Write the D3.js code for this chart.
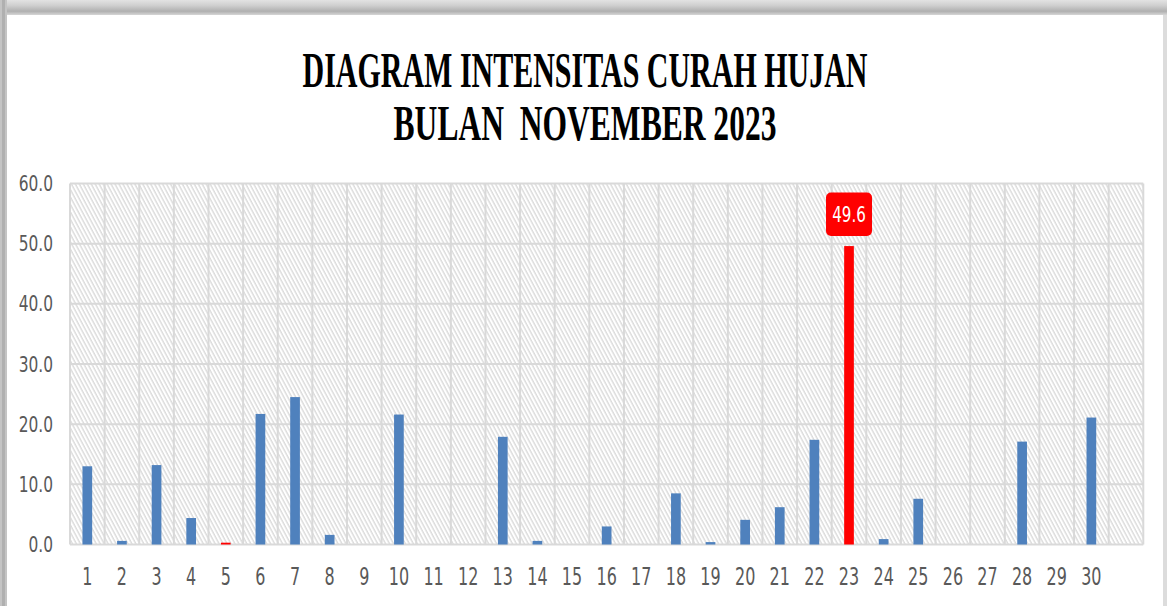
<!DOCTYPE html>
<html lang="id">
<head>
<meta charset="utf-8">
<title>Diagram Intensitas Curah Hujan</title>
<script src="https://d3js.org/d3.v7.min.js"></script>
<style>
body{
  margin:0;
  background:#fff;
}
.title{
  font-family:"Liberation Serif", serif;
  font-weight:bold;
  fill:#000;
  white-space:pre;
}
.axis text{
  font-family:"DejaVu Sans Condensed","DejaVu Sans",sans-serif;
  fill:#595959;
}
.axis path, .axis line{
  display:none;
}
.grid line{
  stroke:#d9d9d9;
  stroke-width:2;
}
</style>
</head>
<body>
<div id="chart"></div>
<script>
// curah hujan harian (mm), November 2023 - the source range has one empty slot after day 30
const days = ["1","2","3","4","5","6","7","8","9","10",
              "11","12","13","14","15","16","17","18","19","20",
              "21","22","23","24","25","26","27","28","29","30",""];
const rain = [13.0, 0.6, 13.2, 4.4, 0.3, 21.7, 24.5, 1.6, 0, 21.6,
              0, 0, 17.9, 0.6, 0, 3.0, 0, 8.5, 0.4, 4.1,
              6.2, 17.4, 49.6, 0.9, 7.6, 0, 0, 17.1, 0, 21.1];
const redDays = ["5", "23"];
const labelDays = ["23"];
const yTicks = [0, 10, 20, 30, 40, 50, 60];
const titleLines = ["DIAGRAM INTENSITAS CURAH HUJAN", "BULAN  NOVEMBER 2023"];

const W = 1167, H = 606;
var margin = {top:183.5, left:70, right:23.7, bottom:61.5};
var w = W - margin.left - margin.right,
    h = H - margin.top - margin.bottom;

var data = rain.map(function(v,i){ return {day:days[i], v:v}; });

var svg = d3.select("#chart").append("svg")
  .attr("width", W).attr("height", H);

// frame / shadow like the pasted picture
var defs = svg.append("defs");
var grad = defs.append("linearGradient").attr("id","topShade")
  .attr("x1",0).attr("y1",0).attr("x2",0).attr("y2",1);
grad.append("stop").attr("offset","0%").attr("stop-color","#e2e2e2");
grad.append("stop").attr("offset","35%").attr("stop-color","#d0d0d0");
grad.append("stop").attr("offset","75%").attr("stop-color","#b0b0b0");
grad.append("stop").attr("offset","100%").attr("stop-color","#d6d6d6");

svg.append("rect").attr("x",0).attr("y",0).attr("width",W).attr("height",15)
  .attr("fill","url(#topShade)");
svg.append("rect").attr("x",0).attr("y",0).attr("width",7).attr("height",H)
  .attr("fill","#c4c4c4");
svg.append("rect").attr("x",2).attr("y",0).attr("width",3).attr("height",H)
  .attr("fill","#b0b0b0");
svg.append("rect").attr("x",1163).attr("y",15).attr("width",4).attr("height",H)
  .attr("fill","#dcdcdc");

// diagonal hatch of the plot area
var pat = defs.append("pattern").attr("id","hatch")
  .attr("patternUnits","userSpaceOnUse")
  .attr("width",3.5).attr("height",8)
  .attr("patternTransform","rotate(-28)");
pat.append("rect").attr("width",3.5).attr("height",8).attr("fill","#fff");
pat.append("line").attr("x1",1).attr("y1",0).attr("x2",1).attr("y2",8)
  .attr("stroke","#d0d0d0").attr("stroke-width",1.1);

// title, squeezed to the width of the original
var titleW = [565, 383];
svg.selectAll("text.title")
  .data(titleLines)
  .enter().append("text")
  .attr("class","title")
  .attr("text-anchor","middle")
  .attr("font-size",51)
  .text(function(d){ return d; })
  .each(function(d,i){
    var k = titleW[i] / this.getComputedTextLength();
    d3.select(this)
      .attr("transform","translate(585,"+(87 + i*53)+") scale("+k+",1)");
  });

var chart = svg.append("g")
  .attr("transform","translate("+margin.left+","+margin.top+")");

var xc = d3.scaleBand().domain(days).range([0,w]);
var x = d3.scaleBand().domain(days).range([0,w]).paddingInner(0.72).paddingOuter(0.36);
var y = d3.scaleLinear().domain([0,60]).range([h,0]);

chart.append("rect").attr("width",w).attr("height",h).attr("fill","url(#hatch)");

// gridlines
var grid = chart.append("g").attr("class","grid");
grid.selectAll("line.h").data(yTicks).enter().append("line")
  .attr("class","h")
  .attr("x1",0).attr("x2",w)
  .attr("y1",function(d){ return y(d); }).attr("y2",function(d){ return y(d); });
grid.selectAll("line.v").data(days).enter().append("line")
  .attr("class","v")
  .attr("x1",function(d){ return xc(d); }).attr("x2",function(d){ return xc(d); })
  .attr("y1",0).attr("y2",h);
grid.append("line").attr("x1",w).attr("x2",w).attr("y1",0).attr("y2",h);

// bars
chart.selectAll("rect.bar")
  .data(data)
  .enter().append("rect")
  .attr("class","bar")
  .attr("x",function(d){ return x(d.day); })
  .attr("width",x.bandwidth())
  .attr("y",function(d){ return y(d.v); })
  .attr("height",function(d){ return h - y(d.v); })
  .attr("fill",function(d){ return redDays.indexOf(d.day) >= 0 ? "#ff0000" : "#4f81bd"; });

// data label for the highest day
var lab = chart.selectAll("g.lab")
  .data(data.filter(function(d){ return labelDays.indexOf(d.day) >= 0; }))
  .enter().append("g").attr("class","lab")
  .attr("transform",function(d){
    return "translate("+(x(d.day)+x.bandwidth()/2)+","+(y(d.v)-10)+")";
  });
lab.append("rect")
  .attr("x",-23).attr("y",-43.5).attr("width",46).attr("height",43.5)
  .attr("rx",5).attr("fill","#ff0000");
lab.append("text")
  .attr("y",-14)
  .attr("text-anchor","middle")
  .attr("transform","scale(0.8,1)")
  .attr("font-family","'DejaVu Sans Condensed','DejaVu Sans',sans-serif")
  .attr("font-size",21)
  .attr("fill","#fff")
  .text(function(d){ return d3.format(".1f")(d.v); });

// axes
var sy = 0.78, sx = 0.74;
chart.append("g").attr("class","axis")
  .call(d3.axisLeft(y).tickValues(yTicks).tickFormat(d3.format(".1f")).tickSize(0).tickPadding(17))
  .selectAll("text")
  .attr("font-size",22)
  .attr("x",-17/sy)
  .attr("transform","scale("+sy+",1)");

chart.append("g").attr("class","axis")
  .attr("transform","translate(0,"+h+")")
  .call(d3.axisBottom(xc).tickSize(0).tickPadding(23))
  .selectAll("text")
  .attr("font-size",24)
  .attr("transform","scale("+sx+",1)");
</script>
</body>
</html>
